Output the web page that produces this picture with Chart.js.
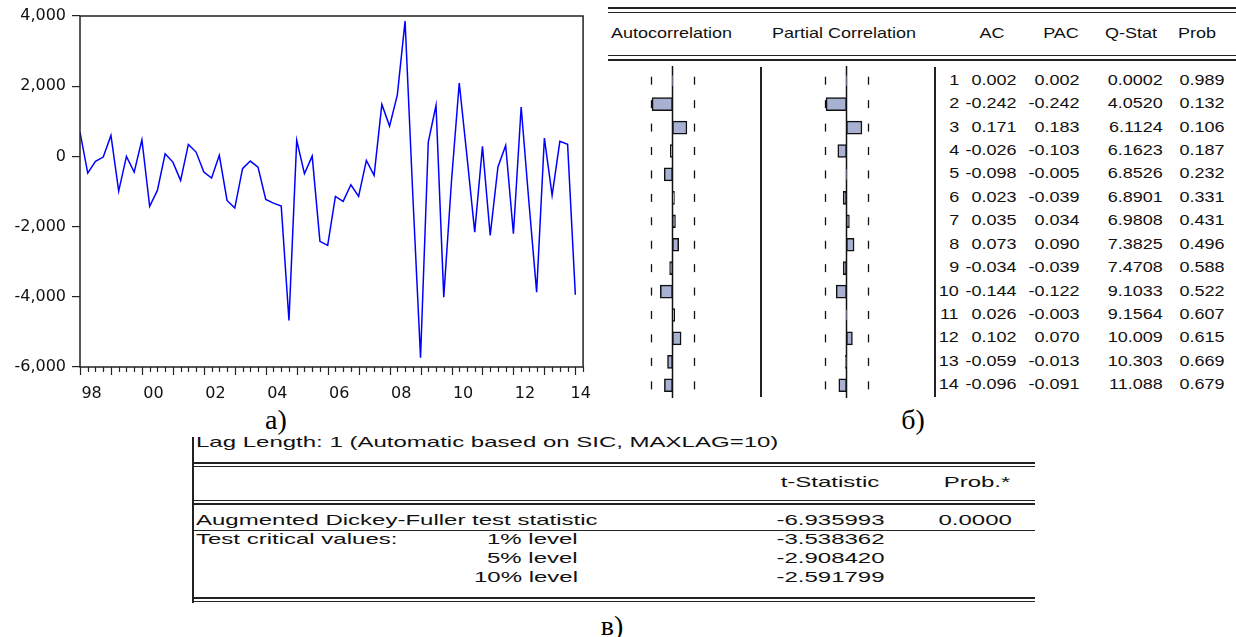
<!DOCTYPE html>
<html>
<head>
<meta charset="utf-8">
<script src="https://cdn.jsdelivr.net/npm/chart.js"></script>
<style>
  body { margin: 0; width: 1236px; height: 637px; background: #fff; position: relative; overflow: hidden; }
  canvas { position: absolute; }
  .txt { position: absolute; line-height: 20px; white-space: pre; color: #111; transform: scaleX(var(--sx)); }
  .corr { --sx: 1.2; font: 15px "Liberation Sans", Arial, sans-serif; }
  .adf { --sx: 1.6; font: 15px "Liberation Sans", Arial, sans-serif; }
  .cap { --sx: 1; font: 28px "Liberation Serif", serif; color: #000; }
  .ln { position: absolute; background: #222; }
</style>
</head>
<body>
<canvas id="series" width="600" height="400" style="left:0;top:0"></canvas>
<canvas id="acChart" width="135" height="336" style="left:605px;top:65px"></canvas>
<canvas id="pacChart" width="135" height="336" style="left:779px;top:65px"></canvas>
<script>
// а) quarterly series 1998Q1 .. 2014Q1 (values read off the plot)
const seriesValues = [693, -475, -143, -20, 598, -988, 0, -447, 475, -1425, -969, 76, -162, -684, 342, 123,
  -447, -618, 29, -1254, -1473, -351, -133, -304, -1225, -1330, -1416, -4674, 456, -494, 9, -2420,
  -2537, -1140, -1283, -807, -1140, -114, -541, 1482, 864, 1750, 3856, -1100, -5738, 409, 1454, -4010,
  -700, 2090, 0, -2157, 285, -2252, -300, 314, -2204, 1406, -1300, -3866, 522, -1112, 427, 342, -3940];
const yearLabels = ['98', '00', '02', '04', '06', '08', '10', '12', '14'];

// б) correlogram
const lags = [1, 2, 3, 4, 5, 6, 7, 8, 9, 10, 11, 12, 13, 14];
const ac = [0.002, -0.242, 0.171, -0.026, -0.098, 0.023, 0.035, 0.073, -0.034, -0.144, 0.026, 0.102, -0.059, -0.096];
const pac = [0.002, -0.242, 0.183, -0.103, -0.005, -0.039, 0.034, 0.090, -0.039, -0.122, -0.003, 0.070, -0.013, -0.091];
const qStat = ['0.0002', '4.0520', '6.1124', '6.1623', '6.8526', '6.8901', '6.9808', '7.3825', '7.4708', '9.1033', '9.1564', '10.009', '10.303', '11.088'];
const prob = ['0.989', '0.132', '0.106', '0.187', '0.232', '0.331', '0.431', '0.496', '0.588', '0.522', '0.607', '0.615', '0.669', '0.679'];
const bound = 0.25;

// в) ADF test
const lagLine = 'Lag Length: 1 (Automatic based on SIC, MAXLAG=10)';
const adfStat = '-6.935993';
const adfProb = '0.0000';
const critLevels = ['1% level', '5% level', '10% level'];
const critValues = ['-3.538362', '-2.908420', '-2.591799'];

const W = 1236;

function put(txt, x, y, align, cls) {
  const el = document.createElement('div');
  el.className = 'txt ' + cls;
  el.textContent = txt;
  el.style.top = (y - 10) + 'px';
  if (align === 'right') {
    el.style.right = (W - x) + 'px';
    el.style.transformOrigin = 'right center';
  } else if (align === 'center') {
    el.style.left = x + 'px';
    el.style.transform = 'translateX(-50%) scaleX(var(--sx))';
  } else {
    el.style.left = x + 'px';
    el.style.transformOrigin = 'left center';
  }
  document.body.appendChild(el);
}

function line(x, y, w, h) {
  const el = document.createElement('div');
  el.className = 'ln';
  el.style.left = x + 'px';
  el.style.top = y + 'px';
  el.style.width = w + 'px';
  el.style.height = h + 'px';
  document.body.appendChild(el);
}

// ---- а) line chart ----
const framePlugin = {
  id: 'frame',
  afterDraw(chart) {
    const ctx = chart.ctx, a = chart.chartArea, xs = chart.scales.x;
    ctx.save();
    ctx.strokeStyle = '#222';
    ctx.lineWidth = 1.5;
    ctx.strokeRect(a.left, a.top, a.right - a.left, a.bottom - a.top);
    // quarter ticks, longer at each year
    ctx.lineWidth = 1.2;
    for (let i = 0; i <= 65; i++) {
      const x = Math.round(xs.getPixelForValue(i)) + 0.5;
      const len = i % 4 === 0 ? 8 : 5;
      ctx.beginPath();
      ctx.moveTo(x, a.bottom);
      ctx.lineTo(x, a.bottom + len);
      ctx.stroke();
    }
    ctx.restore();
  }
};

new Chart(document.getElementById('series'), {
  type: 'line',
  data: {
    datasets: [{
      data: seriesValues.map((v, i) => ({ x: i, y: v })),
      borderColor: '#0000ff',
      borderWidth: 1.5,
      pointRadius: 0,
      tension: 0
    }]
  },
  options: {
    responsive: false,
    animation: false,
    layout: { padding: { top: 16, right: 14, left: 0, bottom: 0 } },
    plugins: { legend: { display: false }, tooltip: { enabled: false } },
    scales: {
      x: {
        type: 'linear', min: 0, max: 65,
        afterFit: s => { s.height = 33; },
        afterBuildTicks: s => { s.ticks = yearLabels.map((l, i) => ({ value: Math.min(i * 8 + 1.5, 64.7) })); },
        grid: { display: false },
        border: { display: false },
        ticks: {
          autoSkip: false, maxRotation: 0, padding: 9, color: '#111',
          font: { family: 'DejaVu Sans', size: 16 },
          callback: (v, i) => yearLabels[i]
        }
      },
      y: {
        min: -6000, max: 4000,
        afterFit: s => { s.width = 80; },
        grid: { drawOnChartArea: false, tickLength: 8, color: '#222', lineWidth: 1.2 },
        border: { display: false },
        ticks: {
          stepSize: 2000, padding: 6, color: '#111',
          font: { family: 'DejaVu Sans', size: 16 },
          callback: v => v.toLocaleString('en-US')
        }
      }
    }
  },
  plugins: [framePlugin]
});

// ---- б) correlogram bars ----
const boundsPlugin = {
  id: 'bounds',
  beforeDatasetsDraw(chart) {
    const ctx = chart.ctx, a = chart.chartArea, xs = chart.scales.x, ys = chart.scales.y;
    ctx.save();
    ctx.strokeStyle = '#111';
    ctx.lineWidth = 1.5;
    const x0 = xs.getPixelForValue(0);
    ctx.beginPath();
    ctx.moveTo(x0, a.top - 3);
    ctx.lineTo(x0, a.bottom + 1);
    ctx.stroke();
    ctx.lineWidth = 1.3;
    [-bound, bound].forEach(b => {
      const x = Math.round(xs.getPixelForValue(b)) + 0.5;
      lags.forEach((l, i) => {
        const y = ys.getPixelForValue(i);
        ctx.beginPath();
        ctx.moveTo(x, y - 4);
        ctx.lineTo(x, y + 4);
        ctx.stroke();
      });
    });
    ctx.restore();
  }
};

function corrChart(id, vals) {
  return new Chart(document.getElementById(id), {
    type: 'bar',
    data: {
      labels: lags,
      datasets: [{
        data: vals,
        backgroundColor: '#a9b1d2',
        borderColor: '#111',
        borderWidth: 1.5,
        borderSkipped: false,
        barThickness: 13
      }]
    },
    options: {
      indexAxis: 'y',
      responsive: false,
      animation: false,
      layout: { padding: { top: 4, bottom: 4, left: 0, right: 0 } },
      plugins: { legend: { display: false }, tooltip: { enabled: false } },
      scales: {
        x: { display: false, min: -0.8, max: 0.8 },
        y: { display: false }
      }
    },
    plugins: [boundsPlugin]
  });
}
corrChart('acChart', ac);
corrChart('pacChart', pac);

// correlogram frame and table text
line(608, 7, 628, 2);
line(608, 12, 628, 1);
line(608, 55, 628, 1);
line(608, 59, 628, 2);
line(760, 67, 2, 330);
line(934, 67, 2, 330);

put('Autocorrelation', 611, 34, 'left', 'corr');
put('Partial Correlation', 772, 34, 'left', 'corr');
put('AC', 992, 34, 'center', 'corr');
put('PAC', 1061, 34, 'center', 'corr');
put('Q-Stat', 1131, 34, 'center', 'corr');
put('Prob', 1197, 34, 'center', 'corr');

lags.forEach((l, i) => {
  const y = 80.7 + i * 23.43;
  put(String(l), 959, y, 'right', 'corr');
  put(ac[i].toFixed(3), 1017, y, 'right', 'corr');
  put(pac[i].toFixed(3), 1080, y, 'right', 'corr');
  put(qStat[i], 1163, y, 'right', 'corr');
  put(prob[i], 1225, y, 'right', 'corr');
});

// ---- в) ADF table ----
line(192, 437, 2, 166);
line(193, 462, 842, 2);
line(193, 466, 842, 1);
line(193, 500, 842, 1);
line(193, 503, 842, 2);
line(193, 530, 842, 1);
line(193, 597, 842, 2);
line(193, 601, 842, 1);

put(lagLine, 196, 443, 'left', 'adf');
put('t-Statistic', 830, 483, 'center', 'adf');
put('Prob.*', 977, 483, 'center', 'adf');
put('Augmented Dickey-Fuller test statistic', 196, 521, 'left', 'adf');
put(adfStat, 885, 521, 'right', 'adf');
put(adfProb, 1012, 521, 'right', 'adf');
put('Test critical values:', 196, 540, 'left', 'adf');
critLevels.forEach((lv, i) => {
  const y = 540 + i * 19;
  put(lv, 578, y, 'right', 'adf');
  put(critValues[i], 885, y, 'right', 'adf');
});

// panel captions
put('а)', 276, 414, 'center', 'cap');
put('б)', 913, 414, 'center', 'cap');
put('в)', 612, 620, 'center', 'cap');
</script>
</body>
</html>
